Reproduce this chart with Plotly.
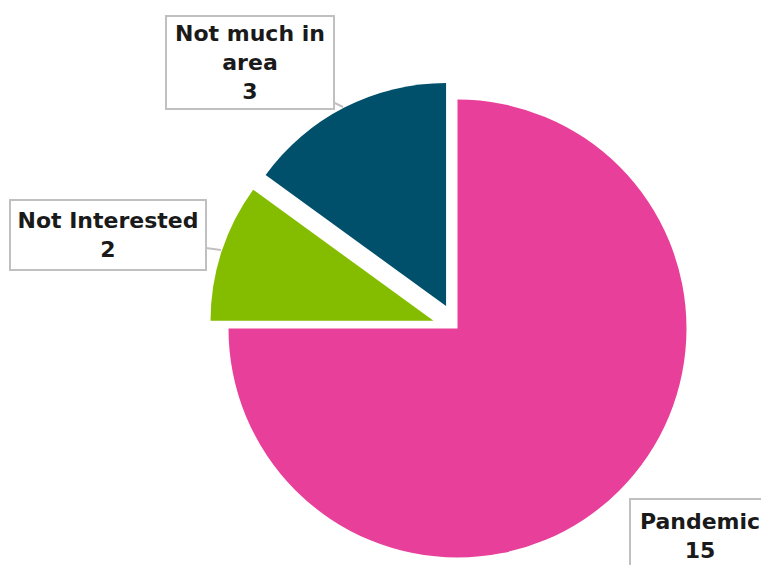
import math
import plotly.graph_objects as go

# ---- data ----
labels = ["Pandemic", "Not Interested", "Not much in area"]
values = [15, 2, 3]
colors = ["#E8409A", "#84BD00", "#004F6B"]
pulls = [0.0, 0.11, 0.11]
label_text = [f"{l.replace('Not much in area', 'Not much in<br>area')}<br>{v}" for l, v in zip(labels, values)]

W, H = 761, 565
CX, CY, R = 457.5, 328.5, 229.0
R_PULLED = 223.0

fig = go.Figure()
total = sum(values)
cum = 0.0
for i, (lab, v) in enumerate(zip(labels, values)):
    mid = (cum + v / 2) / total * 2 * math.pi  # clockwise from 12 o'clock
    cum += v
    off = pulls[i] * R
    cx = CX + off * math.sin(mid)
    cy = CY - off * math.cos(mid)
    r = R if pulls[i] == 0 else R_PULLED
    cols = [c if j == i else "rgba(0,0,0,0)" for j, c in enumerate(colors)]
    fig.add_trace(go.Pie(
        labels=labels, values=values, sort=False, direction="clockwise",
        rotation=0, marker=dict(colors=cols, line=dict(width=0)),
        textinfo="none", hoverinfo="skip", showlegend=False,
        domain=dict(x=[(cx - r) / W, (cx + r) / W],
                    y=[1 - (cy + r) / H, 1 - (cy - r) / H]),
    ))

# callout boxes: (center x, center y, width, height, tip x, tip y)
boxes = {
    "Pandemic": (700, 536, 138, 72, 621, 490),
    "Not Interested": (108, 235, 194, 68, 221, 250),
    "Not much in area": (250, 62.5, 166, 91, 343, 107),
}
for lab, txt in zip(labels, label_text):
    bx, by, bw, bh, tx, ty = boxes[lab]
    fig.add_annotation(
        x=tx / W, y=1 - ty / H, xref="paper", yref="paper",
        ax=bx - tx, ay=by - ty, axref="pixel", ayref="pixel",
        text=txt, showarrow=True, arrowhead=0, arrowwidth=2,
        arrowcolor="#C0C0C0", standoff=0, startstandoff=0,
        width=bw, height=bh, align="center", valign="middle",
        bgcolor="white", bordercolor="#C0C0C0", borderwidth=2, borderpad=0,
        font=dict(family="DejaVu Sans", size=22, color="#1A1A1A", weight="bold"),
    )

fig.update_layout(
    width=W, height=H, margin=dict(l=0, r=0, t=0, b=0),
    paper_bgcolor="white", plot_bgcolor="white", showlegend=False,
)
fig.write_html("out.html")
